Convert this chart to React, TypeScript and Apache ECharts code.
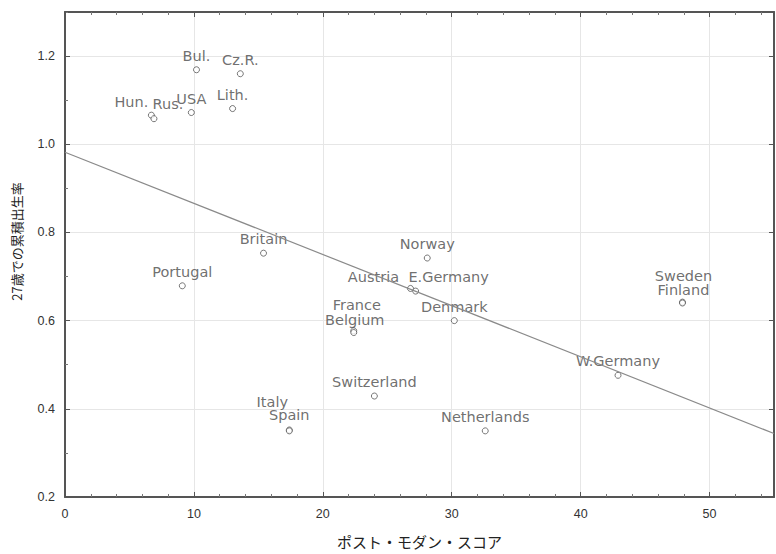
import React, { useEffect, useRef } from "react";
import * as echarts from "echarts";

const countries = ["Bul.", "Cz.R.", "USA", "Lith.", "Hun.", "Rus.", "Britain", "Portugal", "Norway", "Austria", "E.Germany", "Denmark", "France", "Belgium", "Sweden", "Finland", "W.Germany", "Switzerland", "Italy", "Spain", "Netherlands"];
const postModernScore = [10.2, 13.6, 9.8, 13.0, 6.7, 6.9, 15.4, 9.1, 28.1, 26.8, 27.2, 30.2, 22.4, 22.4, 47.9, 47.9, 42.9, 24.0, 17.4, 17.4, 32.6];
const fertilityAt27 = [1.169, 1.16, 1.072, 1.081, 1.066, 1.058, 0.753, 0.679, 0.742, 0.673, 0.667, 0.6, 0.577, 0.573, 0.642, 0.64, 0.476, 0.429, 0.352, 0.35, 0.35];
const regressionIntercept = 0.982;
const regressionSlope = -0.0116;
const xRange = [0, 55];
const yRange = [0.2, 1.3];

// label placement tweaks (style only)
const labelOffsets: Record<string, number[]> = {
  "Hun.": [-20, 1],
  "Rus.": [14, -1],
  Austria: [-37, 3],
  "E.Germany": [33, 0],
  France: [3, -12],
  Belgium: [1, 1],
  Sweden: [1, -12],
  Finland: [1, 1],
  Italy: [-17, -14],
  Spain: [0, -2],
};

export default function App() {
  const ref = useRef<HTMLDivElement>(null);
  useEffect(() => {
    const chart = echarts.init(ref.current!, null, { renderer: "svg" });
    const font = "'Liberation Sans', Arial, sans-serif";
    const labelFont = "'DejaVu Sans', sans-serif";
    const points = countries.map((name, i) => ({
      name,
      value: [postModernScore[i], fertilityAt27[i]],
    }));
    const lineData = xRange.map((x) => [x, regressionIntercept + regressionSlope * x]);
    const frameLine = { show: true, onZero: false, lineStyle: { color: "#555", width: 2 } };
    chart.setOption({
      animation: false,
      backgroundColor: "#fff",
      grid: { left: 65, right: 2, top: 12, bottom: 54, containLabel: false },
      xAxis: [
        {
          type: "value",
          min: xRange[0],
          max: xRange[1],
          interval: 10,
          name: "ポスト・モダン・スコア",
          nameLocation: "middle",
          nameGap: 37,
          nameTextStyle: { fontFamily: "'Noto Sans CJK JP', sans-serif", fontSize: 15, color: "#222" },
          axisLine: frameLine,
          axisTick: { show: true, inside: true, length: 5, lineStyle: { color: "#555" } },
          minorTick: { show: true, splitNumber: 5, length: 3, lineStyle: { color: "#777" } },
          axisLabel: { color: "#333", fontSize: 12.5, fontFamily: font, margin: 11, showMaxLabel: false },
          splitLine: { show: true, lineStyle: { color: "#e6e6e6", width: 1 } },
        },
        {
          type: "value",
          position: "top",
          min: xRange[0],
          max: xRange[1],
          interval: 10,
          axisLine: frameLine,
          axisTick: { show: true, inside: true, length: 5, lineStyle: { color: "#555" } },
          minorTick: { show: true, splitNumber: 5, length: 3, lineStyle: { color: "#777" } },
          axisLabel: { show: false },
          splitLine: { show: false },
        },
      ],
      yAxis: [
        {
          type: "value",
          min: yRange[0],
          max: yRange[1],
          interval: 0.2,
          name: "27歳での累積出生率",
          nameLocation: "middle",
          nameGap: 42,
          nameRotate: 90,
          nameTextStyle: { fontFamily: "'Noto Sans CJK JP', sans-serif", fontSize: 13, color: "#222", padding: [0, 0, 0, 26] },
          axisLine: frameLine,
          axisTick: { show: true, inside: true, length: 5, lineStyle: { color: "#555" } },
          minorTick: { show: true, splitNumber: 2, length: 3, lineStyle: { color: "#777" } },
          axisLabel: {
            color: "#333",
            fontSize: 12.5,
            fontFamily: font,
            margin: 10,
            showMaxLabel: false,
            formatter: (v: number) => v.toFixed(1),
          },
          splitLine: { show: true, lineStyle: { color: "#e6e6e6", width: 1 } },
        },
        {
          type: "value",
          position: "right",
          min: yRange[0],
          max: yRange[1],
          interval: 0.2,
          axisLine: frameLine,
          axisTick: { show: true, inside: true, length: 5, lineStyle: { color: "#555" } },
          axisLabel: { show: false },
          splitLine: { show: false },
        },
      ],
      series: [
        {
          type: "line",
          data: lineData,
          symbol: "none",
          lineStyle: { color: "#8a8a8a", width: 1.2 },
          silent: true,
          z: 3,
        },
        {
          type: "scatter",
          data: points,
          symbol: "circle",
          symbolSize: 6,
          itemStyle: { color: "#fff", borderColor: "#555", borderWidth: 1 },
          label: {
            show: true,
            position: "top",
            distance: 3,
            formatter: "{b}",
            color: "#4a4a4a",
            fontSize: 14.5,
            fontFamily: labelFont,
          },
          labelLayout: (params: any) => {
            const o = labelOffsets[countries[params.dataIndex]];
            return o ? { dx: o[0], dy: o[1], hideOverlap: false } : { hideOverlap: false };
          },
          z: 2,
        },
      ],
    });
    return () => chart.dispose();
  }, []);
  return <div ref={ref} style={{ position: "absolute", left: 0, top: 0, width: 776, height: 554 }} />;
}
